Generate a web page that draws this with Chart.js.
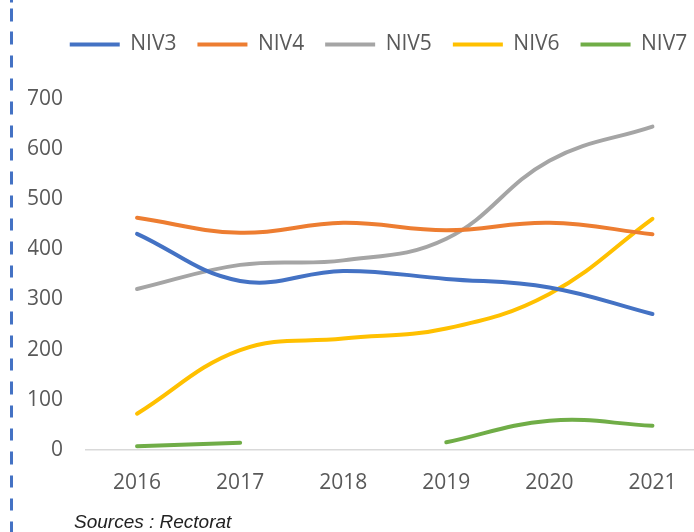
<!DOCTYPE html>
<html>
<head>
<meta charset="utf-8">
<script src="https://cdn.jsdelivr.net/npm/chart.js@4/dist/chart.umd.min.js"></script>
<style>
  html, body { margin: 0; padding: 0; background: #fff; overflow: hidden; }
  body { width: 694px; height: 532px; position: relative; }
  #wrap { position: absolute; left: 0; top: 0; width: 710px; height: 532px; }
  #dash {
    position: absolute; left: 10px; top: 0; width: 3px; height: 532px;
    background: repeating-linear-gradient(to bottom, #4472C4 0 12.5px, transparent 12.5px 23.33px);
    background-position: 0 8.5px;
  }
  #source {
    position: absolute; left: 74px; top: 511px;
    font: italic 19px "Liberation Sans", Arial, sans-serif; line-height: 22px;
    color: #222;
  }
</style>
</head>
<body>
<div id="wrap"><canvas id="chart"></canvas></div>
<div id="dash"></div>
<div id="source">Sources : Rectorat</div>
<script>
const years = ['2016', '2017', '2018', '2019', '2020', '2021'];
const niv3 = [431, 337, 357, 341, 324, 271];
const niv4 = [463, 433, 453, 438, 453, 430];
const niv5 = [321, 369, 378, 421, 577, 645];
const niv6 = [72, 199, 222, 242, 311, 461];
const niv7 = [7, 14, null, 15, 58, 48];

const FONT = '"Open Sans", sans-serif';
const GREY = '#595959';
const LEGEND_EXTRA = 34;
const LEGEND_SHIFT = 12.5;

function line(label, data, color) {
  return {
    label,
    data,
    borderColor: color,
    backgroundColor: color,
    borderWidth: 4,
    pointRadius: 0,
    pointHoverRadius: 0,
    tension: 0.4,
    borderCapStyle: 'round',
    borderJoinStyle: 'round',
    spanGaps: false
  };
}

// legend: a bit more room under it, and nudged right like the original
const legendTweak = {
  id: 'legendTweak',
  beforeInit(chart) {
    const legend = chart.legend;
    const fit = legend.fit;
    const draw = legend.draw;
    legend.fit = function () {
      fit.call(this);
      this.height += LEGEND_EXTRA;
    };
    legend.draw = function (area) {
      const ctx = this.ctx;
      ctx.save();
      ctx.translate(LEGEND_SHIFT, 0);
      draw.call(this, area);
      ctx.restore();
    };
  }
};

Chart.defaults.font.family = FONT;
Chart.defaults.color = GREY;

new Chart(document.getElementById('chart'), {
  type: 'line',
  data: {
    labels: years,
    datasets: [
      line('NIV3', niv3, '#4472C4'),
      line('NIV4', niv4, '#ED7D31'),
      line('NIV5', niv5, '#A5A5A5'),
      line('NIV6', niv6, '#FFC000'),
      line('NIV7', niv7, '#70AD47')
    ]
  },
  options: {
    responsive: true,
    maintainAspectRatio: false,
    animation: false,
    layout: { padding: { left: 28, right: 6, top: 13, bottom: 15 } },
    plugins: {
      legend: {
        position: 'top',
        labels: {
          boxWidth: 50,
          boxHeight: 4,
          padding: 21,
          font: { size: 21 },
          color: GREY,
          generateLabels(chart) {
            return Chart.defaults.plugins.legend.labels.generateLabels(chart)
              .map(item => ({ ...item, lineWidth: 0 }));
          }
        }
      },
      tooltip: { enabled: false }
    },
    scales: {
      x: {
        offset: true,
        grid: { display: false, drawTicks: false, offset: true },
        border: { display: true, color: '#d9d9d9', width: 1.5 },
        ticks: { font: { size: 21 }, color: GREY, padding: 21 }
      },
      y: {
        min: 0,
        max: 700,
        grid: { display: false, drawTicks: false },
        border: { display: false },
        ticks: { stepSize: 100, font: { size: 21 }, color: GREY, padding: 22.5 },
        afterFit(scale) { scale.width = 57.5; }
      }
    }
  },
  plugins: [legendTweak]
});
</script>
</body>
</html>
